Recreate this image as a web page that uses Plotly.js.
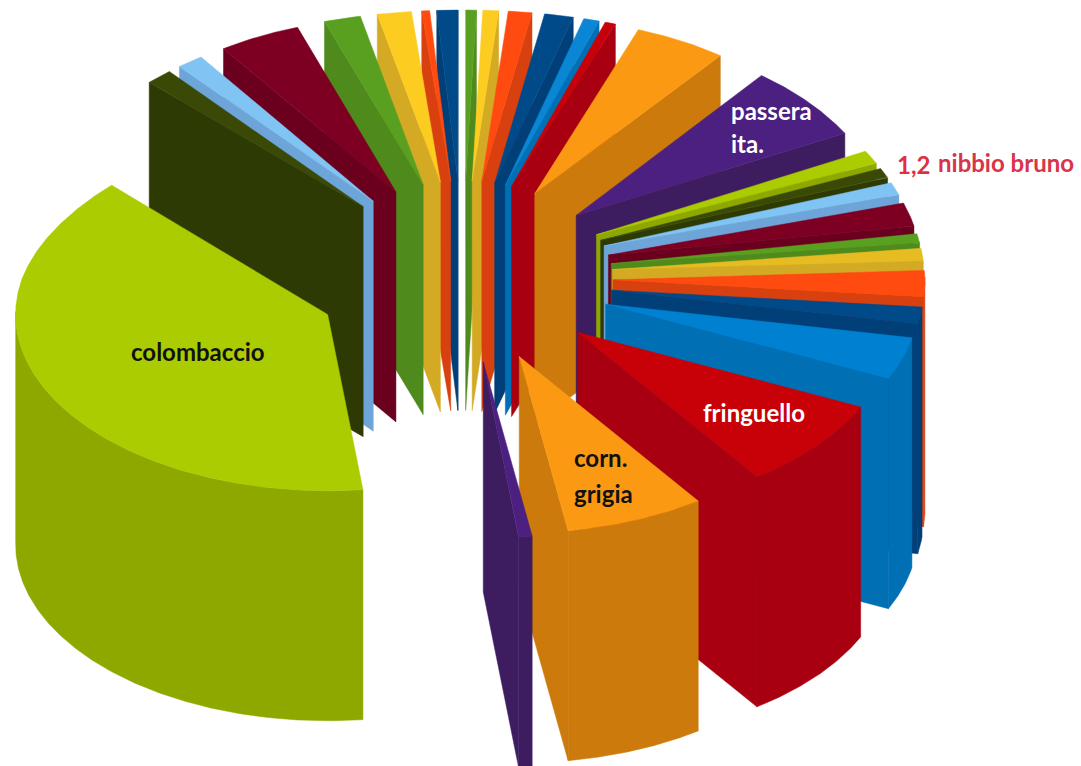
<!DOCTYPE html>
<html><head><meta charset="utf-8">
<script src="https://cdn.plot.ly/plotly-3.0.1.min.js"></script>
<style>html,body{margin:0;padding:0;background:#fff}#c{width:1081px;height:766px}</style>
</head><body><div id="c"></div>
<script>
// Share of each slice in percent, clockwise from "colombaccio"
const sliceValues = [39.44,1.39,1.39,4.31,1.94,1.81,0.42,1.11,0.56,0.83,1.25,1.53,0.83,0.56,4.86,6.53,
                     1.2,0.88,1.11,2.08,0.83,1.11,2.36,1.53,3.89,8.33,7.22,0.7];
const sliceLabels = ["colombaccio","","","","","","","","","","","","","","","passera ita.",
                     "nibbio bruno","","","","","","","","","fringuello","corn. grigia",""];
const topColors = ["#aacc00","#3a4a06","#80c4f4","#7d0022","#5aa020","#fccc20","#ff4a10","#004a8a",
                   "#5aa020","#fccc20","#ff4a10","#004a8a","#0a86d4","#c80008","#fb9a12","#4c2080",
                   "#aacc00","#3a4a06","#80c4f4","#7d0022","#5aa020","#e6bc22","#ff4a10","#004a8a",
                   "#0080d0","#c80008","#fb9a12","#4c2080"];
const wallColors = ["#8fa800","#2e3a04","#6ea5d8","#6b001e","#4f8a1c","#d4aa24","#d8400f","#003f78",
                    "#4f8a1c","#d4aa24","#d8400f","#003f78","#006fb4","#a80010","#cc7a0c","#3e1c60",
                    "#8fa800","#2e3a04","#6ea5d8","#6b001e","#4f8a1c","#d4aa24","#d8400f","#003f78",
                    "#006fb4","#a80010","#cc7a0c","#3e1c60"];
const textLabels = [
 {t:"colombaccio",x:198,y:351,c:"#111",a:"center"},
 {t:"passera",x:729,y:110,c:"#fff",a:"left"},
 {t:"ita.",x:729,y:143,c:"#fff",a:"left"},
 {t:"1,2",x:895,y:164,c:"#e03040",a:"left"},
 {t:"nibbio bruno",x:936,y:162,c:"#d8344a",a:"left"},
 {t:"fringuello",x:754,y:412,c:"#fff",a:"center"},
 {t:"corn.",x:572,y:457,c:"#111",a:"left"},
 {t:"grigia",x:572,y:493,c:"#111",a:"left"}
];
// View of the exploded pie
const view = {cx:463, cy:278, kFront:0.565, kBack:0.58, warp:0.00023, shrink:0.00005, h:230, R:312, E:150, start:173.5};

const rad = d => d*Math.PI/180;
const total = sliceValues.reduce((a,b)=>a+b,0);
let cur = view.start;
const slices = sliceValues.map((v,i)=>{
  const a0 = cur, a1 = cur + v/total*360; cur = a1;
  return {i,a0,a1,mid:(a0+a1)/2};
});
function px(s,th,r,z){ // th clockwise from the back of the pie
  const X = view.E*Math.sin(rad(s.mid)) + r*Math.sin(rad(th));
  const Y = view.E*Math.cos(rad(s.mid)) + r*Math.cos(rad(th));
  let d;
  if (Y<0) d = view.kFront*Y;
  else d = view.kBack*Y + view.warp*Y*Math.max(0,view.R+view.E-Y)*Math.max(0,1-Math.abs(X)/400);
  const sx = Y>0 ? 1-view.shrink*Y : 1;
  return [view.cx+X*sx, view.cy-d+z];
}
const traces = [];
function poly(pts,color){
  const x = pts.map(p=>p[0]), y = pts.map(p=>p[1]);
  x.push(x[0]); y.push(y[0]);
  traces.push({type:"scatter",mode:"lines",x,y,fill:"toself",fillcolor:color,
    line:{color:color,width:0.5},hoverinfo:"skip",showlegend:false});
}
const order = slices.slice().sort((a,b)=>Math.cos(rad(b.mid))-Math.cos(rad(a.mid)));
order.forEach(s=>{
  const wall = wallColors[s.i], top = topColors[s.i], R=view.R, h=view.h;
  const a = px(s,s.a0,0,0), aB = px(s,s.a0,0,h);
  // cut faces facing the viewer
  if (Math.sin(rad(s.a0))<0) poly([a,px(s,s.a0,R,0),px(s,s.a0,R,h),aB],wall);
  if (Math.sin(rad(s.a1))>0) poly([a,px(s,s.a1,R,0),px(s,s.a1,R,h),aB],wall);
  // rim facing the viewer
  const rimUp=[],rimDn=[];
  for(let d=s.a0;d<s.a1+0.25;d+=0.5){
    const th=Math.min(d,s.a1), c=Math.cos(rad(th));
    if(c<=0.02){rimUp.push(px(s,th,R,0));rimDn.unshift(px(s,th,R,h));}
  }
  if(rimUp.length>1) poly(rimUp.concat(rimDn),wall);
  // top
  const t=[a];
  for(let d=s.a0;d<s.a1+0.25;d+=0.5) t.push(px(s,Math.min(d,s.a1),R,0));
  poly(t,top);
});
const layout = {
  width:1081,height:766,margin:{l:0,r:0,t:0,b:0},paper_bgcolor:"#fff",plot_bgcolor:"#fff",
  xaxis:{range:[0,1081],visible:false,fixedrange:true},
  yaxis:{range:[766,0],visible:false,fixedrange:true},
  showlegend:false,
  annotations:textLabels.map(l=>({x:l.x,y:l.y,xref:"x",yref:"y",text:"<b>"+l.t+"</b>",showarrow:false,
    xanchor:l.a,yanchor:"middle",font:{family:"Lato",size:24,color:l.c}}))
};
Plotly.newPlot("c",traces,layout,{displayModeBar:false,staticPlot:true});
</script></body></html>
